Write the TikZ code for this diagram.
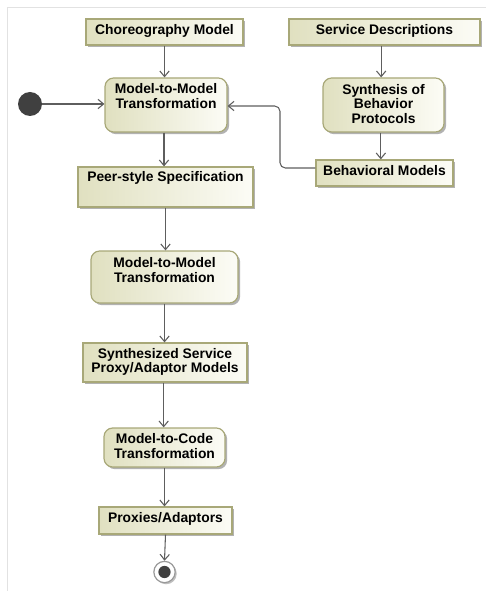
\documentclass[tikz,border=0pt]{standalone}
\usepackage{fontspec}
\setmainfont{Liberation Sans}
\usetikzlibrary{arrows.meta,shadows,fit}
\definecolor{boxborder}{HTML}{A8A878}
\definecolor{boxleft}{HTML}{E0E0C0}
\definecolor{boxright}{HTML}{FCFCF6}
\definecolor{linegray}{HTML}{5E5E5E}
\definecolor{framegray}{HTML}{E2E2E2}
\definecolor{dotgray}{HTML}{404040}
\begin{document}
\begin{tikzpicture}[x=0.75pt,y=-0.75pt,
  objbox/.style={draw=boxborder, line width=0.9pt, left color=boxleft, right color=boxright,
    inner sep=0pt, general shadow={fill=black!30, shadow xshift=1.6pt, shadow yshift=-1.6pt}},
  actbox/.style={objbox, rounded corners=6.5pt},
  lbl/.style={font=\fontsize{10.4}{10.6}\selectfont\bfseries, align=center, inner sep=0pt, text=black},
  flow/.style={draw=linegray, line width=0.8pt, -{Straight Barb[length=4.2pt,width=7pt]}}]
\useasboundingbox (0,0) rectangle (486,591);
\draw[framegray, line width=1pt] (7.5,591) -- (7.5,7.5) -- (486,7.5);

% boxes
\node[objbox, fit={(86,19) (243,45)}] (chor) {};
\node[lbl] (chorT) at (164.5,31) {Choreography Model};
\node[objbox, fit={(289,19) (480,45)}] (sd) {};
\node[lbl] (sdT) at (384.5,31) {Service Descriptions};
\node[actbox, fit={(105,78) (227,132)}] (mm1) {};
\node[lbl] (mm1T) at (166,96) {Model-to-Model\\Transformation};
\node[actbox, fit={(323,78) (444,132)}] (syn) {};
\node[lbl] (synT) at (383.5,104) {Synthesis of\\Behavior\\Protocols};
\node[objbox, fit={(316,160) (453,186)}] (bm) {};
\node[lbl] (bmT) at (384.5,171) {Behavioral Models};
\node[objbox, fit={(78,167) (253,207)}] (peer) {};
\node[lbl] (peerT) at (165.5,178) {Peer-style Specification};
\node[actbox, fit={(91,251) (238,303)}] (mm2) {};
\node[lbl] (mm2T) at (164.5,270) {Model-to-Model\\Transformation};
\node[objbox, fit={(83,343) (247,382)}] (ssp) {};
\node[lbl] (sspT) at (165,361.5) {Synthesized Service\\Proxy/Adaptor Models};
\node[actbox, fit={(104,428) (225,467)}] (m2c) {};
\node[lbl] (m2cT) at (164.5,446) {Model-to-Code\\Transformation};
\node[objbox, fit={(99,507) (232,534)}] (prox) {};
\node[lbl] (proxT) at (165.5,519) {Proxies/Adaptors};

% initial and final
\node[circle, fill=dotgray, minimum size=18pt, inner sep=0pt] (init) at (30,104) {};
\node[circle, draw=gray!80, line width=0.9pt, fill=white, minimum size=16pt, inner sep=0pt,
  general shadow={fill=black!25, shadow xshift=1.2pt, shadow yshift=-1.2pt}] (fin) at (164.5,572) {};
\fill[dotgray] (fin.center) circle (4.6pt);

% connectors
\coordinate (bmout) at ([yshift=3.75pt]bm.west);
\coordinate (bend) at (280,106);
\draw[flow] (chor.south) -- (chor.south |- mm1.north);
\draw[flow] (init) -- (init -| mm1.west);
\draw[flow] ([xshift=-2.5pt]sd.south) -- ([xshift=-2.5pt]sd.south |- syn.north);
\draw[flow] ([xshift=-2pt]syn.south) -- ([xshift=-2pt]syn.south |- bm.north);
\draw[flow, rounded corners=4pt] (bmout) -| (bend) -- (bend -| mm1.east);
\draw[flow] ([xshift=-1.5pt]mm1.south) -- ([xshift=-1.5pt]mm1.south |- peer.north);
\draw[flow] (peer.south) -- (peer.south |- mm2.north);
\draw[flow] (mm2.south) -- (mm2.south |- ssp.north);
\draw[flow] ([xshift=-1pt]ssp.south) -- ([xshift=-1pt]ssp.south |- m2c.north);
\draw[flow] (m2c.south) -- (m2c.south |- prox.north);
\draw[flow] (prox.south) -- (fin.north);
\end{tikzpicture}
\end{document}
